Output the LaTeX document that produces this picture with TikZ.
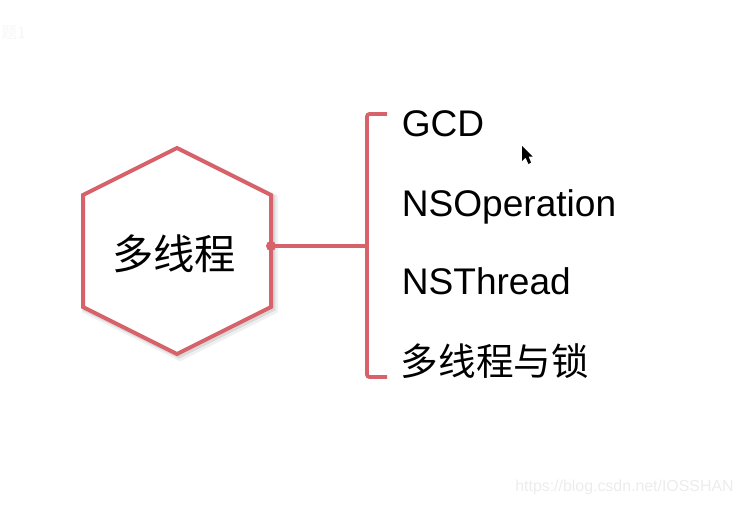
\documentclass[tikz,border=0pt]{standalone}
\usepackage{fontspec}
\setmainfont{Liberation Sans}
\newfontfamily\cjk{Noto Sans CJK SC}
\definecolor{hexred}{RGB}{216,98,106}
\definecolor{markgray}{RGB}{236,236,236}
\definecolor{pagegray}{RGB}{246,246,246}
\tikzset{
  hexline/.style={draw=hexred,line width=0.8mm,line join=miter},
  branch/.style={hexred,line width=0.75mm},
  itemlabel/.style={anchor=base west,inner sep=0pt,font=\fontsize{21.1}{24}\selectfont},
  marklabel/.style={inner sep=0pt}
}
\begin{document}
\begin{tikzpicture}
\useasboundingbox (0,0) rectangle (14.84,10.12);
% shadow
\draw[black!6,line width=1.6mm] (3.60,7.10) -- (5.48,6.16) -- (5.48,3.92) -- (3.60,2.98) -- (1.72,3.92) -- (1.72,6.16) -- cycle;
\draw[black!15,line width=0.9mm] (3.58,7.12) -- (5.46,6.18) -- (5.46,3.94) -- (3.58,3.00) -- (1.70,3.94) -- (1.70,6.18) -- cycle;
% hexagon
\draw[hexline,fill=white] (3.54,7.16) -- (5.42,6.22) -- (5.42,3.98) -- (3.54,3.04) -- (1.66,3.98) -- (1.66,6.22) -- cycle;
\node (hub) at (3.48,5.05) {\fontsize{23.5}{26}\selectfont\cjk 多线程};
% connector
\coordinate (port) at (5.42,5.2);
\coordinate (spine) at (7.34,5.2);
\coordinate (top) at (7.74,7.84);
\coordinate (bottom) at (7.74,2.58);
\draw[branch] (port) -- (spine);
\draw[branch,rounded corners=0.5mm] (top) -| (spine) |- (bottom);
\fill[hexred] (port) circle (0.1);
% items
\node[itemlabel] (gcd) at (8.03,7.4) {GCD};
\node[itemlabel] (nsop) at (8.03,5.8) {NSOperation};
\node[itemlabel] (nsth) at (8.03,4.24) {NSThread};
\node[itemlabel] (lock) at (8.01,2.62) {\fontsize{21.4}{24}\selectfont\cjk 多线程与锁};
% cursor
\fill[black] (10.44,7.2) -- (10.44,6.9) -- (10.51,6.97) -- (10.57,6.84) -- (10.62,6.87) -- (10.57,6.99) -- (10.65,6.99) -- cycle;
% watermarks
\node[marklabel,text=pagegray,anchor=west,font=\fontsize{9}{10}\selectfont\cjk] (page) at (0.02,9.46) {题1};
\node[marklabel,text=markgray,anchor=east,font=\fontsize{9.05}{11}\selectfont] (site) at (14.68,0.38) {https://blog.csdn.net/IOSSHAN};
\end{tikzpicture}
\end{document}
